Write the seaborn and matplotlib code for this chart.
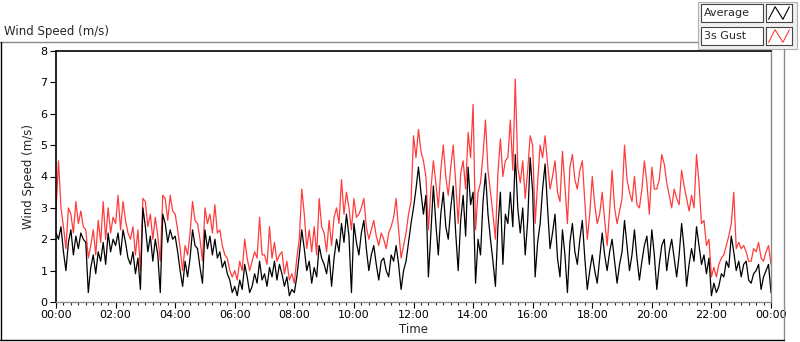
import numpy as np
import pandas as pd
import matplotlib
matplotlib.use("Agg")
import matplotlib.pyplot as plt
from matplotlib.lines import Line2D
from matplotlib.ticker import MultipleLocator, FuncFormatter
import seaborn as sns

# 5-minute samples, one row per hour (00:00 .. 23:55) plus the closing 24:00 point
average = [
    2.2, 2.0, 2.4, 1.6, 1.0, 1.9, 2.3, 1.5, 2.1, 1.7, 2.2, 2.0,
    1.9, 0.3, 1.1, 1.5, 0.9, 1.6, 1.3, 1.9, 1.2, 2.2, 1.6, 2.0,
    1.8, 2.2, 1.5, 2.3, 1.9, 1.4, 1.2, 1.6, 0.9, 1.4, 0.4, 3.0,
    2.4, 1.6, 2.1, 1.3, 2.0, 1.5, 0.3, 2.8, 2.5, 1.9, 2.3, 2.0,
    2.1, 1.6, 1.0, 0.5, 1.3, 0.8, 1.4, 2.3, 1.8, 1.7, 1.1, 0.6,
    2.3, 1.7, 2.1, 1.5, 2.0, 1.4, 1.6, 1.1, 1.3, 0.9, 0.7, 0.3,
    0.5, 0.2, 0.7, 0.4, 1.2, 0.8, 0.3, 0.5, 0.9, 0.6, 1.3, 0.7,
    0.9, 0.5, 1.1, 0.8, 1.3, 0.7, 1.2, 0.9, 0.5, 0.8, 0.2, 0.4,
    0.3, 0.8, 1.5, 2.3, 1.7, 1.0, 1.3, 0.6, 1.1, 0.8, 1.8, 1.4,
    1.2, 0.9, 1.5, 0.5, 1.4, 2.0, 1.6, 2.5, 1.9, 2.8, 2.1, 0.3,
    2.5, 1.9, 1.5, 2.2, 2.6, 1.7, 1.0, 1.5, 1.8, 1.2, 0.7, 1.3,
    1.4, 1.0, 0.8, 1.5, 1.3, 1.8, 1.2, 0.4, 1.0, 1.3, 1.9, 2.5,
    3.0, 3.6, 4.3, 3.5, 2.8, 3.4, 0.8, 2.2, 3.7, 2.5, 1.5, 2.8,
    3.5, 2.4, 2.0, 3.0, 3.7, 2.2, 1.0, 2.6, 3.4, 2.1, 4.3, 3.1,
    3.5, 0.6, 2.0, 1.5, 3.2, 4.1, 2.8, 2.0, 1.3, 0.5, 2.4, 3.5,
    1.2, 2.8, 2.5, 3.5, 2.4, 4.7, 3.0, 2.2, 3.0, 1.5, 2.6, 4.6,
    3.5, 0.8, 1.9, 2.5, 3.6, 4.4, 3.0, 1.7, 2.2, 2.8, 1.4, 0.8,
    2.3, 1.5, 0.3, 1.9, 2.5, 1.6, 1.2, 2.0, 2.6, 1.4, 0.4, 1.0,
    1.5, 1.0, 0.6, 1.4, 2.2, 1.5, 1.0, 1.6, 2.0, 1.3, 0.6, 1.2,
    1.6, 2.6, 1.8, 1.0, 1.5, 2.3, 1.4, 0.7, 1.3, 1.8, 2.1, 1.2,
    2.3, 1.5, 0.4, 1.2, 1.8, 2.0, 1.0, 1.6, 2.0, 1.4, 0.8, 1.5,
    2.5, 1.7, 0.5, 1.2, 1.7, 1.3, 2.4, 1.8, 1.2, 1.5, 0.9, 1.4,
    0.2, 0.6, 0.3, 0.5, 0.9, 0.8, 1.3, 1.1, 2.1, 1.6, 1.0, 1.3,
    0.8, 1.2, 1.3, 0.7, 0.6, 0.9, 1.0, 1.2, 0.4, 0.8, 1.0, 1.2,
    0.3,
]

gust = [
    2.9, 4.5, 3.0, 2.4, 1.7, 3.0, 2.8, 2.2, 3.2, 2.5, 2.9, 2.4,
    2.3, 1.4, 1.8, 2.3, 1.5, 2.6, 1.9, 3.2, 2.0, 3.0, 2.2, 2.7,
    2.5, 3.4, 2.3, 3.2, 2.6, 2.2, 2.0, 2.4, 1.5, 2.3, 1.0, 3.3,
    3.2, 2.4, 2.8, 2.0, 2.7, 2.1, 1.3, 3.4, 3.3, 2.6, 3.4, 2.9,
    2.8, 2.3, 1.7, 1.0, 1.8, 1.5, 2.2, 3.2, 2.6, 2.5, 2.0, 1.3,
    3.0, 2.5, 2.8, 2.2, 3.1, 2.2, 2.3, 1.8, 1.5, 1.4, 1.0, 0.8,
    1.0, 0.7, 1.3, 1.0, 2.0, 1.4, 1.0, 1.3, 1.6, 1.4, 2.7, 1.5,
    1.5, 1.2, 2.4, 1.4, 1.9, 1.3, 1.5, 1.6, 0.9, 1.3, 0.7, 0.9,
    0.6, 1.4, 2.0, 3.6, 2.8, 1.7, 2.3, 1.6, 2.4, 1.5, 3.3, 2.4,
    2.2, 1.6, 2.6, 1.8, 2.7, 3.0, 2.5, 3.9, 2.8, 3.5, 3.0, 2.3,
    3.3, 2.7, 2.8, 3.0, 3.3, 2.4, 2.0, 2.3, 2.6, 2.1, 1.8, 2.2,
    2.0, 1.7, 2.2, 2.4, 2.7, 3.3, 2.3, 1.4, 1.8, 2.2, 2.8, 3.2,
    5.3, 4.6, 5.5, 4.8, 4.5, 4.0, 2.3, 3.6, 4.5, 3.8, 3.0, 4.2,
    5.0, 4.0, 3.4, 4.3, 5.0, 3.8, 2.5, 4.1, 4.5, 3.6, 5.4, 4.6,
    6.3, 2.3, 3.5, 3.8, 4.7, 5.8, 4.2, 3.5, 2.8, 2.0, 4.1, 5.2,
    4.0, 4.5, 4.6, 5.8, 4.2, 7.1, 4.3, 3.8, 4.5, 3.3, 4.2, 5.3,
    5.0, 2.5, 3.8, 5.0, 4.6, 5.3, 4.4, 3.6, 4.0, 4.5, 3.5, 3.2,
    4.8, 3.7, 2.5, 4.3, 4.7, 3.9, 3.6, 4.2, 4.5, 3.2, 2.0, 2.8,
    4.0, 3.1, 2.5, 2.8, 3.5, 2.6, 1.8, 2.9, 4.2, 3.0, 2.5, 2.9,
    3.3, 5.0, 3.9, 3.5, 3.2, 4.0, 3.1, 3.0, 3.6, 4.5, 3.8, 2.8,
    4.3, 3.6, 3.6, 3.9, 4.7, 4.4, 3.8, 3.4, 3.0, 3.6, 3.3, 3.1,
    4.2, 3.7, 3.3, 2.9, 3.4, 3.0, 4.7, 3.8, 2.5, 2.6, 1.8, 2.0,
    0.8, 1.1, 0.8, 1.2, 1.4, 1.5, 1.8, 2.1, 2.5, 3.5, 1.7, 1.9,
    1.7, 1.8, 1.6, 1.3, 1.3, 1.7, 1.6, 1.9, 1.4, 1.3, 1.6, 1.8,
    1.2,
]

hours = np.arange(len(average)) * 5 / 60.0

df = pd.DataFrame({
    "Time": np.concatenate([hours, hours]),
    "Wind Speed (m/s)": gust + average,
    "series": ["3s Gust"] * len(gust) + ["Average"] * len(average),
})

sns.set_style("white")
plt.rcParams["font.family"] = ["DejaVu Sans"]

fig = plt.figure(figsize=(8, 3.42), dpi=100)
ax = fig.add_axes([56 / 800, 40 / 342, 715 / 800, 251 / 342])

sns.lineplot(data=df, x="Time", y="Wind Speed (m/s)", hue="series",
             hue_order=["3s Gust", "Average"],
             palette={"3s Gust": "#ff3c3c", "Average": "black"},
             linewidth=0.9, legend=False, ax=ax)

ax.set_xlim(0, 24)
ax.set_ylim(0, 8)
ax.xaxis.set_major_locator(MultipleLocator(2))
ax.xaxis.set_minor_locator(MultipleLocator(0.25))
ax.xaxis.set_major_formatter(FuncFormatter(lambda v, p: "%02d:00" % (int(round(v)) % 24)))
ax.yaxis.set_major_locator(MultipleLocator(1))
ax.tick_params(axis="both", which="major", direction="out", length=4, width=0.8,
               labelsize=8, colors="black", pad=2)
ax.tick_params(axis="x", which="minor", direction="out", length=2, width=0.8, bottom=True)
ax.tick_params(left=True, bottom=True)
ax.set_xlabel("Time", fontsize=8.5, labelpad=2)
ax.set_ylabel("Wind Speed (m/s)", fontsize=8.5, labelpad=4)
for side in ["top", "left"]:
    ax.spines[side].set_color("black")
    ax.spines[side].set_linewidth(1.2)
for side in ["right", "bottom"]:
    ax.spines[side].set_color("#8a8a8a")
    ax.spines[side].set_linewidth(1.0)

# panel frame (LabVIEW style)
def fx(px):
    return px / 800


def fy(py):
    return 1 - py / 342


fig.add_artist(Line2D([fx(0), fx(698)], [fy(42), fy(42)], color="#8a8a8a", lw=1.0))
fig.add_artist(Line2D([fx(784), fx(784)], [fy(49), fy(340)], color="#8a8a8a", lw=1.0))
fig.add_artist(Line2D([fx(0.5), fx(0.5)], [fy(42), fy(340)], color="black", lw=1.0))
fig.add_artist(Line2D([fx(0), fx(784)], [fy(340), fy(340)], color="black", lw=1.0))
fig.text(fx(4), fy(32), "Wind Speed (m/s)", fontsize=8.5, va="center", ha="left")

# legend panel at top right
fig.add_artist(plt.Rectangle((fx(698), fy(49)), fx(99), 47 / 342, transform=fig.transFigure,
                             facecolor="#f0f0f0", edgecolor="#b0b0b0", lw=0.8, zorder=1))
for row, (name, col) in enumerate([("Average", "black"), ("3s Gust", "#ff3c3c")]):
    top = 4 + row * 23
    fig.add_artist(plt.Rectangle((fx(701), fy(top + 18)), fx(62), 18 / 342,
                                 transform=fig.transFigure, facecolor="white",
                                 edgecolor="#444444", lw=0.8, zorder=2))
    fig.text(fx(704), fy(top + 9), name, fontsize=8, va="center", ha="left", zorder=3)
    sw = fig.add_axes([fx(766), fy(top + 18), fx(26), 18 / 342])
    sw.set_zorder(5)
    sw.plot([0.1, 0.35, 0.65, 0.9], [0.15, 0.85, 0.15, 0.85], color=col, lw=0.8)
    sw.set_xlim(0, 1)
    sw.set_ylim(0, 1)
    sw.set_xticks([])
    sw.set_yticks([])
    for s in sw.spines.values():
        s.set_color("#444444")
        s.set_linewidth(0.8)

fig.savefig("out.png", dpi=100, facecolor="white")
